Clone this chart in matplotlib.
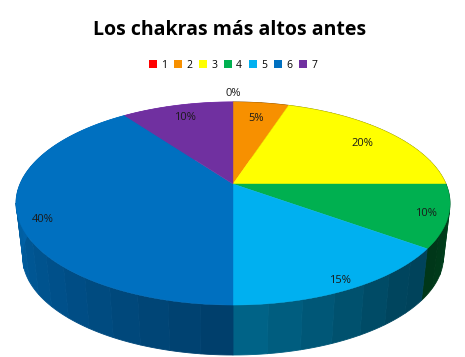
import numpy as np
import matplotlib
matplotlib.use('Agg')
import matplotlib.pyplot as plt
from matplotlib.patches import Patch

# Data
title = 'Los chakras más altos antes'
categories = ['1', '2', '3', '4', '5', '6', '7']
values = [0, 5, 20, 10, 15, 40, 10]
labels = ['0%', '5%', '20%', '10%', '15%', '40%', '10%']
colors = ['#FF0000', '#F79000', '#FFFF00', '#00B050', '#00B0F0', '#0070C0', '#7030A0']

# Pie geometry in pixels (perspective view of a disc)
cx, cy = 233, 184
rx, ry = 213, 97.8
persp = 0.192
depth = 53.6
bottom_scale = 0.97
label_r = [1.13, 0.8, 0.82, 0.9, 0.93, 0.89, 0.85]
label_dy = [0, 2, 3, 1, 0, 7, 2]


def project(theta, r=1.0, scale=1.0, dy=0.0):
    # theta is clockwise from the top, in degrees
    t = np.radians(theta)
    u, v = r * np.sin(t), r * np.cos(t)
    w = 1 + persp * v
    return cx + scale * rx * u / w, cy + dy - scale * ry * v / w


def wall_shade(theta, color):
    # darker towards the front of the pie, stepped like the reference
    rgb = np.array(matplotlib.colors.to_rgb(color))
    if color == '#00B050':
        f = 0.3 + 0.1 * (126 - theta) / 36
    elif theta <= 180:
        f = 0.38 + 0.2 * max(theta - 135, 0) / 45
    else:
        f = 0.55 + 0.32 * (theta - 180) / 90
    return np.clip(rgb * f, 0, 1)


fig = plt.figure(figsize=(4.65, 3.57), dpi=100)
ax = fig.add_axes([0, 0, 1, 1])
ax.set_xlim(0, 465)
ax.set_ylim(357, 0)
ax.axis('off')

edges = np.cumsum([0] + values) * 3.6

# Side wall, one band at a time
for i, color in enumerate(colors):
    if values[i] == 0:
        continue
    start, end = edges[i], edges[i + 1]
    n = max(int((end - start) / 7), 1)
    steps = np.linspace(start, end, n + 1)
    for a, b in zip(steps[:-1], steps[1:]):
        th = np.linspace(a, b, 6)
        x1, y1 = project(th)
        x2, y2 = project(th[::-1], scale=bottom_scale, dy=depth)
        shade = wall_shade((a + b) / 2, color)
        ax.fill(np.r_[x1, x2], np.r_[y1, y2], facecolor=shade, edgecolor=shade, lw=0.6)

# Top of the pie
for i, color in enumerate(colors):
    if values[i] == 0:
        continue
    th = np.linspace(edges[i], edges[i + 1], 120)
    x, y = project(th)
    ax.fill(np.r_[cx, x], np.r_[cy, y], color=color, lw=0.3)

# Percent labels
mids = (edges[:-1] + edges[1:]) / 2
for mid, lab, r, dy in zip(mids, labels, label_r, label_dy):
    x, y = project(mid, r=r)
    ax.text(x, y + dy, lab, ha='center', va='center', fontsize=8, family='Open Sans', color='#1a1a1a')

ax.text(230, 30, title, ha='center', va='center', fontsize=14, fontweight='bold',
        family='Open Sans', color='black')

handles = [Patch(facecolor=c, label=n) for c, n in zip(colors, categories)]
ax.legend(handles=handles, ncol=7, loc='center', bbox_to_anchor=(233 / 465, 1 - 65 / 357),
          frameon=False, handlelength=0.75, handleheight=0.8, handletextpad=0.4,
          columnspacing=0.68, prop={'family': 'Open Sans', 'size': 7.5})

fig.savefig('out.png', dpi=100)
